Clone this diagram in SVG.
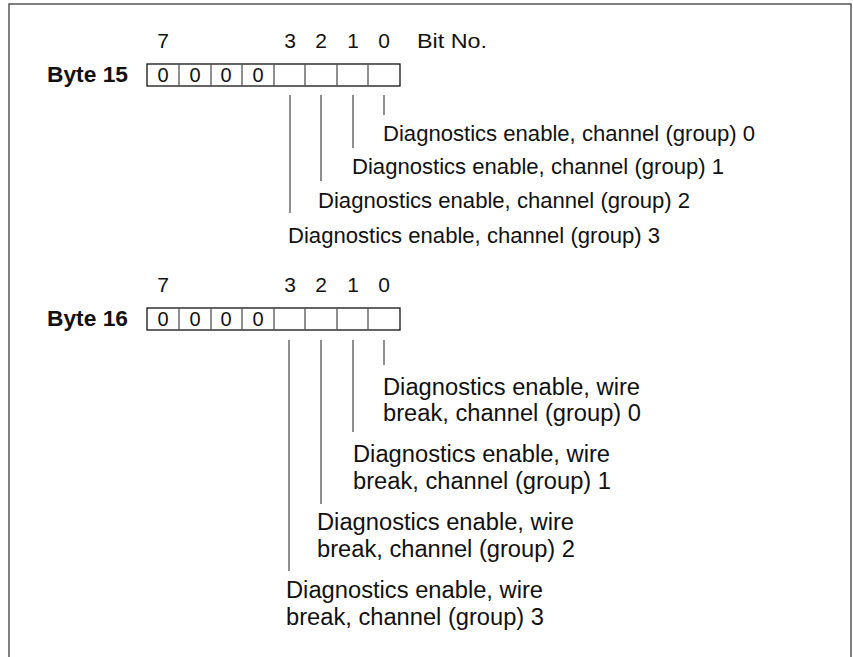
<svg xmlns="http://www.w3.org/2000/svg" width="853" height="657" viewBox="0 0 853 657">
<style>
.t{font-family:"Liberation Sans",Arial,sans-serif;fill:#111}
.s18{font-size:22px}
.s19{font-size:23.5px}
.c{font-size:20px;text-anchor:middle}
.b{font-weight:bold;font-size:22px}
.h{font-size:21px;text-anchor:middle}
.box{fill:#fff;stroke:#111;stroke-width:1.3}
.ln{stroke:#555;stroke-width:1.3;fill:none}
</style>
<path d="M9,657 V4 H851 V657" fill="none" stroke="#555" stroke-width="1.5"/>
<g id="byte15">
<text class="t b" x="47" y="82" textLength="81" lengthAdjust="spacingAndGlyphs">Byte 15</text>
<rect class="box" x="147" y="64" width="253" height="22"/>
<path class="ln" d="M179,64V86M211,64V86M242,64V86M274,64V86M305,64V86M337,64V86M368,64V86" stroke="#111"/>
<text class="t c" x="163" y="82">0</text>
<text class="t c" x="195" y="82">0</text>
<text class="t c" x="226" y="82">0</text>
<text class="t c" x="258" y="82">0</text>
<text class="t h" x="163" y="48">7</text>
<text class="t h" x="290" y="48">3</text>
<text class="t h" x="321" y="48">2</text>
<text class="t h" x="353" y="48">1</text>
<text class="t h" x="384" y="48">0</text>
<text class="t" x="417" y="48" textLength="70" lengthAdjust="spacingAndGlyphs" style="font-size:21px">Bit No.</text>
</g>
<g id="byte16">
<text class="t b" x="47" y="326" textLength="81" lengthAdjust="spacingAndGlyphs">Byte 16</text>
<rect class="box" x="147" y="308" width="253" height="22"/>
<path class="ln" d="M179,308V330M211,308V330M242,308V330M274,308V330M305,308V330M337,308V330M368,308V330" stroke="#111"/>
<text class="t c" x="163" y="326">0</text>
<text class="t c" x="195" y="326">0</text>
<text class="t c" x="226" y="326">0</text>
<text class="t c" x="258" y="326">0</text>
<text class="t h" x="163" y="292">7</text>
<text class="t h" x="290" y="292">3</text>
<text class="t h" x="321" y="292">2</text>
<text class="t h" x="353" y="292">1</text>
<text class="t h" x="384" y="292">0</text>
</g>
<g id="connectors">
<path class="ln" d="M384,95V115M353,95V148M321,95V181M290,95V213"/>
<path class="ln" d="M384,340V365M353,340V432M321,340V504M289,340V571"/>
</g>
<g id="labels15">
<text class="t s18" x="383" y="141" textLength="372" lengthAdjust="spacingAndGlyphs">Diagnostics enable, channel (group) 0</text>
<text class="t s18" x="352" y="174" textLength="372" lengthAdjust="spacingAndGlyphs">Diagnostics enable, channel (group) 1</text>
<text class="t s18" x="318" y="208" textLength="372" lengthAdjust="spacingAndGlyphs">Diagnostics enable, channel (group) 2</text>
<text class="t s18" x="288" y="243" textLength="372" lengthAdjust="spacingAndGlyphs">Diagnostics enable, channel (group) 3</text>
</g>
<g id="labels16">
<text class="t s19" x="383" y="395" textLength="257" lengthAdjust="spacingAndGlyphs">Diagnostics enable, wire</text>
<text class="t s19" x="383" y="421" textLength="258" lengthAdjust="spacingAndGlyphs">break, channel (group) 0</text>
<text class="t s19" x="353" y="462" textLength="257" lengthAdjust="spacingAndGlyphs">Diagnostics enable, wire</text>
<text class="t s19" x="353" y="489" textLength="258" lengthAdjust="spacingAndGlyphs">break, channel (group) 1</text>
<text class="t s19" x="317" y="530" textLength="257" lengthAdjust="spacingAndGlyphs">Diagnostics enable, wire</text>
<text class="t s19" x="317" y="557" textLength="258" lengthAdjust="spacingAndGlyphs">break, channel (group) 2</text>
<text class="t s19" x="286" y="598" textLength="257" lengthAdjust="spacingAndGlyphs">Diagnostics enable, wire</text>
<text class="t s19" x="286" y="625" textLength="258" lengthAdjust="spacingAndGlyphs">break, channel (group) 3</text>
</g>
</svg>
